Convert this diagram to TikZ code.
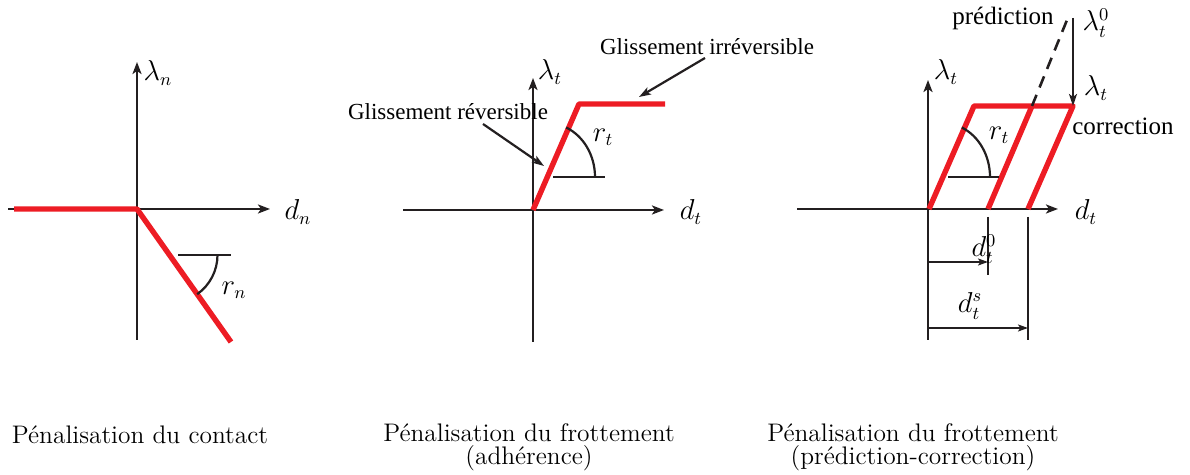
\documentclass[tikz,border=0pt]{standalone}
\usepackage{fontspec}
\usepackage{tikz}
\usetikzlibrary{positioning,arrows.meta,calc}
\newfontfamily\lblfont{Liberation Serif}
\definecolor{ink}{HTML}{231F20}
\definecolor{penred}{HTML}{ED1C24}
\tikzset{
  axis/.style={draw=ink,line width=1.1pt,-{Stealth[length=6pt,width=4.5pt,inset=1.5pt]}},
  law/.style={draw=penred,line width=2.7pt},
  angmark/.style={draw=ink,line width=1.1pt},
  pointer/.style={draw=ink,line width=1.1pt,-{Stealth[length=6pt,width=4pt,inset=1.5pt]}},
  dimline/.style={draw=ink,line width=1.1pt,-{Stealth[length=5pt,width=3.5pt,inset=1.2pt]}},
  mlbl/.style={font=\fontsize{13.5}{15}\selectfont,inner sep=0pt},
  tlbl/.style={font=\lblfont\fontsize{11.5}{13}\selectfont,inner sep=0pt},
  wlbl/.style={font=\lblfont\fontsize{12.5}{14}\selectfont,inner sep=0pt},
  caption/.style={font=\fontsize{12.7}{11.5}\selectfont,align=center,inner sep=0pt}}
\begin{document}
\begin{tikzpicture}[x=0.5pt,y=0.5pt]
  \useasboundingbox (0,0) rectangle (1190,475);
  % contact
  \coordinate (o1) at (137,266);
  \draw[axis] (137,135) -- (137,413);
  \draw[axis] (8,266) -- (270,266);
  \draw[law,line join=round] (14,266) -- (o1) -- (231,133);
  \draw[angmark] (178,220) -- (231,220);
  \draw[angmark] (217.5,220) arc[start angle=0,end angle=-54.75,radius=48];
  \node[mlbl] (ln) at (158,402) {$\lambda_n$};
  \node[mlbl] (dn) at (298,263) {$d_n$};
  \node[mlbl] (rn) at (234,185) {$r_n$};
  \node[caption] (c1) at (140,40) {Pénalisation du contact};
  % adherence
  \coordinate (o2) at (533,265);
  \coordinate (k2) at (579,371);
  \draw[axis] (533,133) -- (533,397);
  \draw[axis] (403,265) -- (664,265);
  \draw[law,line join=round] (o2) -- (k2) -- (665,371);
  \draw[angmark] (553,298) -- (605,298);
  \draw[angmark] (595,298) arc[start angle=0,end angle=66.5,x radius=48,y radius=54];
  \node[mlbl] (lt2) at (550,403) {$\lambda_t$};
  \node[mlbl] (dt2) at (691,263) {$d_t$};
  \node[mlbl] (rt2) at (603,338) {$r_t$};
  \node[tlbl] (rev) at (448,363) {Glissement réversible};
  \node[tlbl] (irr) at (707,428) {Glissement irréversible};
  \coordinate (revtip) at (544,309);
  \coordinate (irrtip) at (639,378);
  \draw[pointer] (483,351) -- (revtip);
  \draw[pointer] (705,417) -- (irrtip);
  \node[caption] (c2) at (529,28) {Pénalisation du frottement\\(adhérence)};
  % prediction-correction
  \coordinate (o3) at (928,266);
  \coordinate (p0) at (988,266);
  \coordinate (ps) at (1028,266);
  \coordinate (top) at (1073,369);
  \draw[axis] (928,135) -- (928,395);
  \draw[axis] (797,266) -- (1058,266);
  \draw[law,line join=round] (929,266) -- (974,369) -- (top) -- (ps);
  \draw[law] (p0) -- (1032,369);
  \draw[draw=ink,line width=1.3pt,dash pattern=on 6pt off 4pt] (1032,369) -- (1067,455);
  \draw[pointer] (1073,457) -- (top);
  \draw[angmark] (948,298) -- (999,298);
  \draw[angmark] (990,298) arc[start angle=0,end angle=66.4,x radius=47,y radius=54];
  \node[mlbl] (rt3) at (999,340) {$r_t$};
  \node[mlbl] (lt3) at (946,403) {$\lambda_t$};
  \node[mlbl] (dt3) at (1086,263) {$d_t$};
  \node[wlbl] (pred) at (1003,457) {prédiction};
  \node[mlbl] (l0) at (1096,452) {$\lambda_t^0$};
  \node[mlbl] (lt) at (1096,387) {$\lambda_t$};
  \node[wlbl] (corr) at (1123,349) {correction};
  \draw[angmark] (988,258) -- (988,200);
  \draw[angmark] (1028,258) -- (1028,135);
  \draw[dimline] (928,213) -- (988,213);
  \draw[dimline] (928,147) -- (1028,147);
  \node[mlbl] (d0) at (984,226) {$d_t^0$};
  \node[mlbl] (ds) at (970,169) {$d_t^s$};
  \node[caption] (c3) at (913,28) {Pénalisation du frottement\\(prédiction-correction)};
\end{tikzpicture}
\end{document}
